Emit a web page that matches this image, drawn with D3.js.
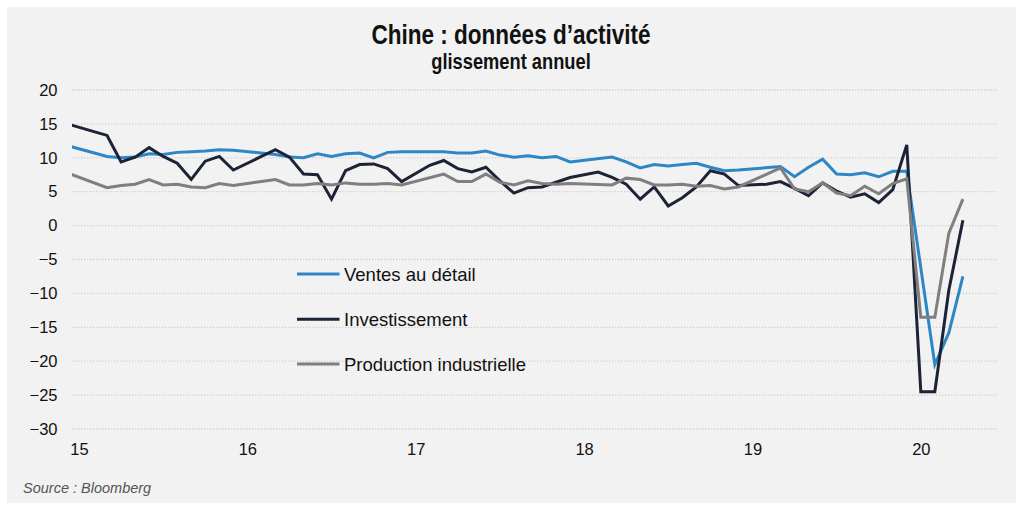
<!DOCTYPE html>
<html>
<head>
<meta charset="utf-8">
<script src="https://cdnjs.cloudflare.com/ajax/libs/d3/7.8.5/d3.min.js"></script>
<style>
  html, body { margin: 0; padding: 0; background: #ffffff; }
  svg { display: block; }
</style>
</head>
<body>
<svg id="chart" width="1024" height="511"></svg>
<script>
// ---- Data (monthly, Dec 2014 .. Apr 2020; null = not published / missing) ----
const startMonth = "2014-12";
const seriesNames = ["Ventes au détail", "Investissement", "Production industrielle"];
const seriesColors = ["#2e87c5", "#1d2336", "#7f7f7f"];

const retail = [
  11.9,
  null, null, 10.2, 10.0, 10.1, 10.6, 10.5, 10.8, 10.9, 11.0, 11.2, 11.1,
  null, null, 10.5, 10.1, 10.0, 10.6, 10.2, 10.6, 10.7, 10.0, 10.8, 10.9,
  null, null, 10.9, 10.7, 10.7, 11.0, 10.4, 10.1, 10.3, 10.0, 10.2, 9.4,
  null, null, 10.1, 9.4, 8.5, 9.0, 8.8, 9.0, 9.2, 8.6, 8.1, 8.2,
  null, null, 8.7, 7.2, 8.6, 9.8, 7.6, 7.5, 7.8, 7.2, 8.0, 8.0,
  null, -20.5, -15.8, -7.5
];
const investment = [
  15.1,
  null, 13.9, 13.3, 9.4, 10.1, 11.5, 10.2, 9.2, 6.8, 9.5, 10.2, 8.2,
  null, 10.2, 11.2, 10.1, 7.6, 7.5, 3.9, 8.1, 9.0, 9.1, 8.4, 6.5,
  null, 8.9, 9.6, 8.4, 7.9, 8.6, 6.6, 4.8, 5.6, 5.7, 6.4, 7.1,
  null, 7.9, 7.1, 6.1, 3.9, 5.7, 2.9, 4.1, 5.7, 8.1, 7.6, 5.9,
  null, 6.1, 6.5, 5.5, 4.4, 6.3, 5.1, 4.2, 4.7, 3.4, 5.3, 11.9,
  -24.5, -24.5, -9.5, 0.8
];
const production = [
  7.9,
  null, null, 5.6, 5.9, 6.1, 6.8, 6.0, 6.1, 5.7, 5.6, 6.2, 5.9,
  null, null, 6.8, 6.0, 6.0, 6.2, 6.0, 6.3, 6.1, 6.1, 6.2, 6.0,
  null, null, 7.6, 6.5, 6.5, 7.6, 6.4, 6.0, 6.6, 6.2, 6.1, 6.2,
  null, null, 6.0, 7.0, 6.8, 6.0, 6.0, 6.1, 5.8, 5.9, 5.4, 5.7,
  null, null, 8.5, 5.4, 5.0, 6.3, 4.8, 4.4, 5.8, 4.7, 6.2, 6.9,
  -13.5, -13.5, -1.1, 3.9
];
const yearLabels = ["15", "16", "17", "18", "19", "20"];
const yTicks = [20, 15, 10, 5, 0, -5, -10, -15, -20, -25, -30];
const titleText = "Chine : données d’activité";
const subtitleText = "glissement annuel";
const sourceText = "Source : Bloomberg";

// ---- Layout ----
const svg = d3.select("#chart");
const W = 1024, H = 511;

svg.append("rect").attr("x", 7).attr("y", 7).attr("width", 1009).attr("height", 496)
  .attr("fill", "#f2f2f2");

// month offset from Jan 2015 (index 0 of arrays is Dec 2014 -> -1)
const [sy, sm] = startMonth.split("-").map(Number);
const monthOffset = i => (sy - 2015) * 12 + (sm - 1) + i;

const x = d3.scaleLinear().domain([0, 60]).range([79, 920.8]);
const y = d3.scaleLinear().domain([-30, 20]).range([429, 90]);

const plotLeft = 72, plotRight = 997;

// gridlines
const grid = svg.append("g");
grid.selectAll("line").data(yTicks).join("line")
  .attr("x1", plotLeft).attr("x2", plotRight)
  .attr("y1", d => y(d)).attr("y2", d => y(d))
  .attr("stroke", "#cfcfcf").attr("stroke-width", 1.3)
  .attr("stroke-dasharray", "1.3,1.7");

// y axis labels
const yAxis = d3.axisLeft(y).tickValues(yTicks).tickSize(0).tickPadding(0)
  .tickFormat(d => d3.format("d")(d));
svg.append("g").attr("transform", "translate(57.5,0)").call(yAxis)
  .call(g => g.select(".domain").remove())
  .selectAll("text")
  .attr("font-family", "'Liberation Sans', Arial, sans-serif")
  .attr("font-size", 16.5).attr("fill", "#111");

// x axis labels
const xAxis = d3.axisBottom(x).tickValues(yearLabels.map((d, i) => i * 12))
  .tickSize(0).tickPadding(0).tickFormat((d, i) => yearLabels[i]);
svg.append("g").attr("transform", "translate(0,443)").call(xAxis)
  .call(g => g.select(".domain").remove())
  .selectAll("text")
  .attr("font-family", "'Liberation Sans', Arial, sans-serif")
  .attr("font-size", 16.5).attr("fill", "#111");

// clip
svg.append("clipPath").attr("id", "plotclip").append("rect")
  .attr("x", plotLeft).attr("y", 60).attr("width", plotRight - plotLeft).attr("height", 400);

const series = [retail, investment, production];
const line = d3.line().x(d => x(d.m)).y(d => y(d.v));
const lines = svg.append("g").attr("clip-path", "url(#plotclip)");
series.forEach((arr, si) => {
  const pts = arr.map((v, i) => ({ m: monthOffset(i), v })).filter(d => d.v !== null);
  lines.append("path").datum(pts)
    .attr("d", line)
    .attr("fill", "none")
    .attr("stroke", seriesColors[si])
    .attr("stroke-width", 3)
    .attr("stroke-linejoin", "miter")
    .attr("stroke-miterlimit", 4);
});

// legend
const legendY = [274, 319.3, 364];
const legend = svg.append("g");
seriesNames.forEach((name, i) => {
  legend.append("line").attr("x1", 297).attr("x2", 339.5)
    .attr("y1", legendY[i]).attr("y2", legendY[i])
    .attr("stroke", seriesColors[i]).attr("stroke-width", 3);
  legend.append("text").attr("x", 344).attr("y", legendY[i]).attr("dy", "0.36em")
    .attr("font-family", "'Liberation Sans', Arial, sans-serif")
    .attr("font-size", 18.5).attr("fill", "#111").text(name);
});

// titles
svg.append("text").attr("transform", "translate(511,44) scale(0.82,1)")
  .attr("text-anchor", "middle")
  .attr("font-family", "'Liberation Sans', Arial, sans-serif")
  .attr("font-weight", "bold").attr("font-size", 27.5).attr("fill", "#111")
  .text(titleText);
svg.append("text").attr("transform", "translate(511,69) scale(0.82,1)")
  .attr("text-anchor", "middle")
  .attr("font-family", "'Liberation Sans', Arial, sans-serif")
  .attr("font-weight", "bold").attr("font-size", 22.3).attr("fill", "#111")
  .text(subtitleText);

// source
svg.append("text").attr("x", 23).attr("y", 493)
  .attr("font-family", "'Liberation Sans', Arial, sans-serif")
  .attr("font-style", "italic").attr("font-size", 14.5).attr("fill", "#555")
  .text(sourceText);
</script>
</body>
</html>
